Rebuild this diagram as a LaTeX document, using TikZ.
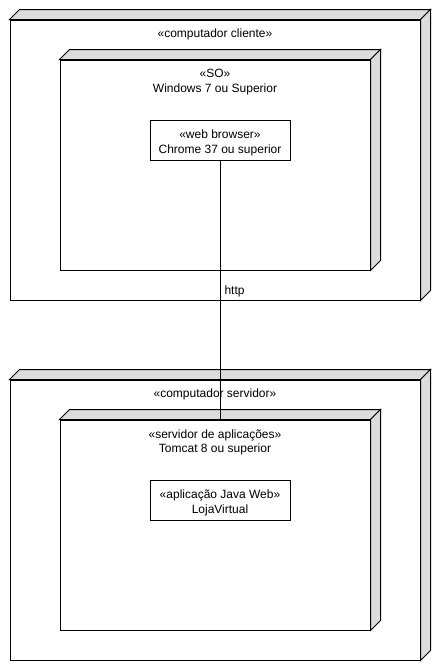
\documentclass[tikz,border=0pt]{standalone}
\usepackage{fontspec}
\setmainfont{Liberation Sans}
\definecolor{sidegray}{RGB}{220,220,220}
\newcommand{\devicedepth}[1]{%
  \filldraw[fill=sidegray] (#1.north west) -- ++(10,-10) -- ([shift={(10,-10)}]#1.north east) -- (#1.north east) -- cycle;
  \filldraw[fill=sidegray] (#1.north east) -- ++(10,-10) -- ([shift={(10,-10)}]#1.south east) -- (#1.south east) -- cycle;}
\begin{document}
\begin{tikzpicture}[x=1pt, y=-1pt, line width=1pt,
    every node/.style={font=\fontsize{12}{14.5}\selectfont, inner sep=0pt},
    devicebox/.style 2 args={draw, fill=white, minimum width=#1, minimum height=#2},
    artifact/.style={draw, fill=white, minimum width=140pt, minimum height=40pt},
    stereo/.style={anchor=north, align=center}]
    \useasboundingbox (0,0) rectangle (440,670);
    % cliente
    \node[devicebox={410pt}{280pt}] (client) at (215,160) {};
    \devicedepth{client}
    \node[stereo] (clientlabel) at (215,28) {«computador cliente»};
    \node[devicebox={310pt}{210pt}] (so) at (215,165) {};
    \devicedepth{so}
    \node[stereo] (solabel) at (215,69) {«SO»\\Windows 7 ou Superior};
    \node[artifact] (browser) at (220,140) {};
    \node[stereo] (browserlabel) at (220,129.5) {«web browser»\\Chrome 37 ou superior};
    % servidor
    \node[devicebox={410pt}{280pt}] (server) at (215,520) {};
    \devicedepth{server}
    \node[stereo] (serverlabel) at (215,388) {«computador servidor»};
    \node[devicebox={310pt}{210pt}] (appserver) at (215,525) {};
    \devicedepth{appserver}
    \node[stereo] (appserverlabel) at (215,429) {«servidor de aplicações»\\Tomcat 8 ou superior};
    \node[artifact] (app) at (220,500) {};
    \node[stereo] (applabel) at (220,489.5) {«aplicação Java Web»\\LojaVirtual};
    % http
    \draw (browser.south) -- (browser.south |- appserver.north);
    \node[anchor=north west] (http) at (224,285) {http};
\end{tikzpicture}
\end{document}
